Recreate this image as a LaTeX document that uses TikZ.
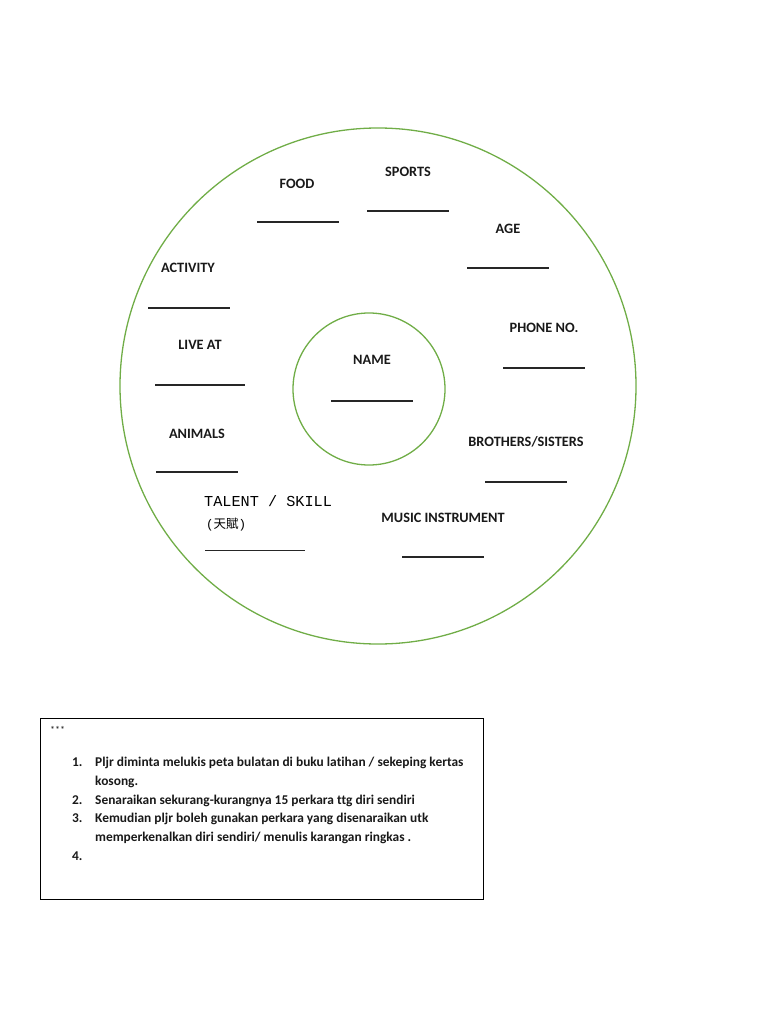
\documentclass[tikz,border=0pt]{standalone}
\usepackage{fontspec}
\setmainfont{Carlito}[Ligatures=NoCommon]
\newfontfamily\typefont{Liberation Mono}
\newfontfamily\cjk{Noto Sans CJK TC}
\usetikzlibrary{positioning}
\definecolor{ringgreen}{RGB}{112,173,71}

\begin{document}
\begin{tikzpicture}[
    x=1pt, y=-1pt,
    ring/.style={draw=ringgreen, line width=1.3pt, circle, inner sep=0pt},
    topic/.style={font=\bfseries\fontsize{14.3}{17}\selectfont, text=black!90, inner sep=0pt},
    blank/.style={inner sep=0pt, text=black!85},
    note/.style={font=\bfseries\fontsize{13.4}{16}\selectfont, text=black!90, inner sep=0pt, anchor=base west}
]
\useasboundingbox (0,0) rectangle (768,1024);

% bubble map
\node[ring, minimum size=516pt] (outer) at (378,386) {};
\node[ring, minimum size=152pt] (inner) at (369,389) {};

\node[topic] (name) at (372,360) {NAME};
\node[blank] (nameb) at (372,401) {\rule{82pt}{1.3pt}};

\node[topic] (food) at (297,184) {FOOD};
\node[blank] (foodb) at (298,222) {\rule{82pt}{1.3pt}};
\node[topic] (sports) at (408,172) {SPORTS};
\node[blank] (sportsb) at (408,211) {\rule{82pt}{1.3pt}};
\node[topic] (age) at (508,229) {AGE};
\node[blank] (ageb) at (508,268) {\rule{82pt}{1.3pt}};
\node[topic] (phone) at (544,328) {PHONE NO.};
\node[blank] (phoneb) at (544,368) {\rule{82pt}{1.3pt}};
\node[topic] (siblings) at (526,442) {BROTHERS/SISTERS};
\node[blank] (siblingsb) at (526,482) {\rule{82pt}{1.3pt}};
\node[topic] (music) at (443,518) {MUSIC INSTRUMENT};
\node[blank] (musicb) at (443,557) {\rule{82pt}{1.3pt}};
\node[topic] (activity) at (188,268) {ACTIVITY};
\node[blank] (activityb) at (189,308) {\rule{82pt}{1.3pt}};
\node[topic] (live) at (200,345) {LIVE AT};
\node[blank] (liveb) at (200,385) {\rule{90pt}{1.3pt}};
\node[topic] (animals) at (197,434) {ANIMALS};
\node[blank] (animalsb) at (197,472) {\rule{82pt}{1.3pt}};

\node[inner sep=0pt, anchor=base west, font=\typefont\fontsize{15.2}{17}\selectfont] (talent) at (204,506) {TALENT / SKILL};
\node[inner sep=0pt, anchor=base west, font=\fontsize{12.5}{15}\selectfont] (talentzh) at (206,528) {\typefont(\cjk 天賦\typefont)};
\node[blank] (talentb) at (255,550) {\rule{100pt}{1pt}};

% instructions
\node[draw, line width=0.9pt, minimum width=443pt, minimum height=181pt, inner sep=0pt] (box) at (261.5,808.5) {};
\node[note, font=\fontsize{10}{12}\selectfont] (stars) at (50,733) {***};
\node[note] (n1) at (72,766) {1.};
\node[note] (t1) at (95,766) {Pljr diminta melukis peta bulatan di buku latihan / sekeping kertas};
\node[note] (t1b) at (95,785) {kosong.};
\node[note] (n2) at (72,804) {2.};
\node[note] (t2) at (95,804) {Senaraikan sekurang-kurangnya 15 perkara ttg diri sendiri};
\node[note] (n3) at (72,822) {3.};
\node[note] (t3) at (95,822) {Kemudian pljr boleh gunakan perkara yang disenaraikan utk};
\node[note] (t3b) at (95,841) {memperkenalkan diri sendiri/ menulis karangan ringkas .};
\node[note] (n4) at (72,860) {4.};
\end{tikzpicture}
\end{document}
